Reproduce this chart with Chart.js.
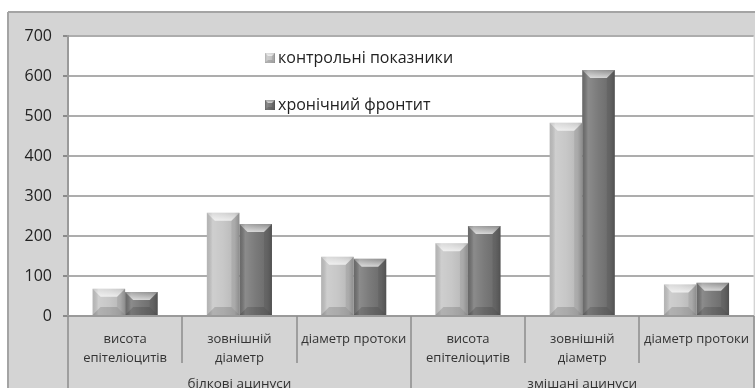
<!DOCTYPE html>
<html>
<head>
<meta charset="utf-8">
<script src="https://cdn.jsdelivr.net/npm/chart.js@4.4.1/dist/chart.umd.min.js"></script>
<style>
  html, body { margin: 0; padding: 0; background: #fff; }
  #wrap { width: 755px; height: 388px; }
</style>
</head>
<body>
<div id="wrap"><canvas id="acinusChart" width="755" height="388"></canvas></div>
<script>
// categories on the x axis (two groups of three)
var categories = [
    ['висота', 'епітеліоцитів'],
    ['зовнішній', 'діаметр'],
    'діаметр протоки',
    ['висота', 'епітеліоцитів'],
    ['зовнішній', 'діаметр'],
    'діаметр протоки'
];
var groups = ['білкові ацинуси', 'змішані ацинуси'];
var groupSize = 3;

var seriesNames = ['контрольні показники', 'хронічний фронтит'];
var controlValues = [68, 258, 148, 182, 483, 79];
var chronicValues = [60, 230, 143, 225, 615, 83];

var yMin = 0;
var yMax = 700;
var yStep = 100;

var FONT = '"Open Sans", "DejaVu Sans", sans-serif';

// grey frame and white plot area
var framePlugin = {
    id: 'frame',
    beforeDraw: function (chart) {
        var ctx = chart.ctx, a = chart.chartArea;
        ctx.save();
        ctx.fillStyle = '#ffffff';
        ctx.fillRect(0, 0, chart.width, chart.height);
        ctx.fillStyle = '#d4d4d4';
        ctx.fillRect(8, 12, chart.width - 8, chart.height - 12);
        ctx.strokeStyle = '#a4a4a4';
        ctx.lineWidth = 2;
        ctx.beginPath();
        ctx.moveTo(8, 12);
        ctx.lineTo(chart.width, 12);
        ctx.moveTo(8, 12);
        ctx.lineTo(8, chart.height);
        ctx.stroke();
        ctx.fillStyle = '#ffffff';
        ctx.fillRect(a.left, a.top, a.right - a.left, a.bottom - a.top);
        ctx.restore();
    }
};

function poly(ctx, pts, color) {
    ctx.fillStyle = color;
    ctx.beginPath();
    ctx.moveTo(pts[0][0], pts[0][1]);
    for (var k = 1; k < pts.length; k++) ctx.lineTo(pts[k][0], pts[k][1]);
    ctx.closePath();
    ctx.fill();
}

// shading over a plain rectangle so it looks raised
function bevel(ctx, L, T, R, B, b) {
    var g = ctx.createLinearGradient(L, 0, R, 0);
    g.addColorStop(0, 'rgba(0,0,0,0.08)');
    g.addColorStop(0.18, 'rgba(255,255,255,0.18)');
    g.addColorStop(0.5, 'rgba(255,255,255,0.06)');
    g.addColorStop(0.85, 'rgba(0,0,0,0.06)');
    g.addColorStop(1, 'rgba(0,0,0,0.22)');
    ctx.fillStyle = g;
    ctx.fillRect(L, T, R - L, B - T);

    var t = ctx.createLinearGradient(0, T, 0, T + b);
    t.addColorStop(0, 'rgba(255,255,255,0.25)');
    t.addColorStop(1, 'rgba(255,255,255,0.7)');
    poly(ctx, [[L, T], [R, T], [R - b, T + b], [L + b, T + b]], t);
    poly(ctx, [[L, B], [R, B], [R - b, B - b], [L + b, B - b]], 'rgba(0,0,0,0.14)');
    poly(ctx, [[R, T], [R - b, T + b], [R - b, B - b], [R, B]], 'rgba(0,0,0,0.08)');
}

var bevelPlugin = {
    id: 'bevel',
    afterDatasetsDraw: function (chart) {
        var ctx = chart.ctx;
        ctx.save();
        chart.data.datasets.forEach(function (ds, i) {
            var meta = chart.getDatasetMeta(i);
            meta.data.forEach(function (bar) {
                var p = bar.getProps(['x', 'y', 'base', 'width'], true);
                var L = p.x - p.width / 2, R = p.x + p.width / 2;
                var T = Math.min(p.y, p.base), B = Math.max(p.y, p.base);
                var b = Math.min(8, (B - T) / 2, p.width / 2);
                bevel(ctx, L, T, R, B, b);
            });
        });
        ctx.restore();
    }
};

// legend inside the plot, separators and group names under the axis
var extrasPlugin = {
    id: 'extras',
    afterDraw: function (chart) {
        var ctx = chart.ctx, a = chart.chartArea, xs = chart.scales.x;
        var step = xs.getPixelForValue(1) - xs.getPixelForValue(0);
        ctx.save();

        // legend
        var lx = 265, ly = [58, 105];
        chart.data.datasets.forEach(function (ds, i) {
            ctx.fillStyle = ds.backgroundColor;
            ctx.fillRect(lx, ly[i] - 5, 10, 10);
            bevel(ctx, lx, ly[i] - 5, lx + 10, ly[i] + 5, 3);
            ctx.fillStyle = '#222';
            ctx.font = '16px ' + FONT;
            ctx.textAlign = 'left';
            ctx.textBaseline = 'middle';
            ctx.fillText(ds.label, lx + 13, ly[i]);
        });

        // category separators
        ctx.strokeStyle = '#8c8c8c';
        ctx.lineWidth = 1.5;
        for (var i = 0; i <= categories.length; i++) {
            var px = Math.round(xs.getPixelForValue(0) - step / 2 + i * step);
            if (i === categories.length) px = Math.min(px, chart.width - 1);
            var full = (i % groupSize === 0);
            ctx.beginPath();
            ctx.moveTo(px, a.bottom);
            ctx.lineTo(px, full ? chart.height : a.bottom + 47);
            ctx.stroke();
        }

        // group names
        ctx.fillStyle = '#333';
        ctx.font = '13.5px ' + FONT;
        ctx.textAlign = 'center';
        ctx.textBaseline = 'middle';
        groups.forEach(function (g, gi) {
            var first = xs.getPixelForValue(gi * groupSize);
            var last = xs.getPixelForValue(gi * groupSize + groupSize - 1);
            ctx.fillText(g, (first + last) / 2, a.bottom + 68);
        });
        ctx.restore();
    }
};

var alldata = {
    labels: categories,
    datasets: [{
        label: seriesNames[0],
        data: controlValues,
        backgroundColor: '#c4c4c4',
        borderWidth: 0
    }, {
        label: seriesNames[1],
        data: chronicValues,
        backgroundColor: '#727272',
        borderWidth: 0
    }]
};

var barGraph = new Chart(document.getElementById('acinusChart'), {
    type: 'bar',
    data: alldata,
    plugins: [framePlugin, bevelPlugin, extrasPlugin],
    options: {
        responsive: false,
        animation: false,
        layout: { padding: { top: 36, right: -5, left: 0, bottom: 0 } },
        categoryPercentage: 0.57,
        barPercentage: 1.0,
        plugins: {
            legend: { display: false },
            tooltip: { enabled: false }
        },
        scales: {
            x: {
                grid: { display: false },
                border: { display: true, color: '#9a9a9a', width: 2 },
                ticks: {
                    color: '#333',
                    font: { family: FONT, size: 13, lineHeight: 1.45 },
                    padding: 6,
                    maxRotation: 0,
                    autoSkip: false
                },
                afterFit: function (scale) { scale.height = 72; }
            },
            y: {
                min: yMin,
                max: yMax,
                ticks: {
                    stepSize: yStep,
                    color: '#222',
                    font: { family: FONT, size: 16 },
                    padding: 11
                },
                grid: { color: '#adadad', lineWidth: 2, tickLength: 5, tickColor: '#8a8a8a' },
                border: { display: true, color: '#9a9a9a', width: 2 },
                afterFit: function (scale) { scale.width = 68; }
            }
        }
    }
});
</script>
</body>
</html>
